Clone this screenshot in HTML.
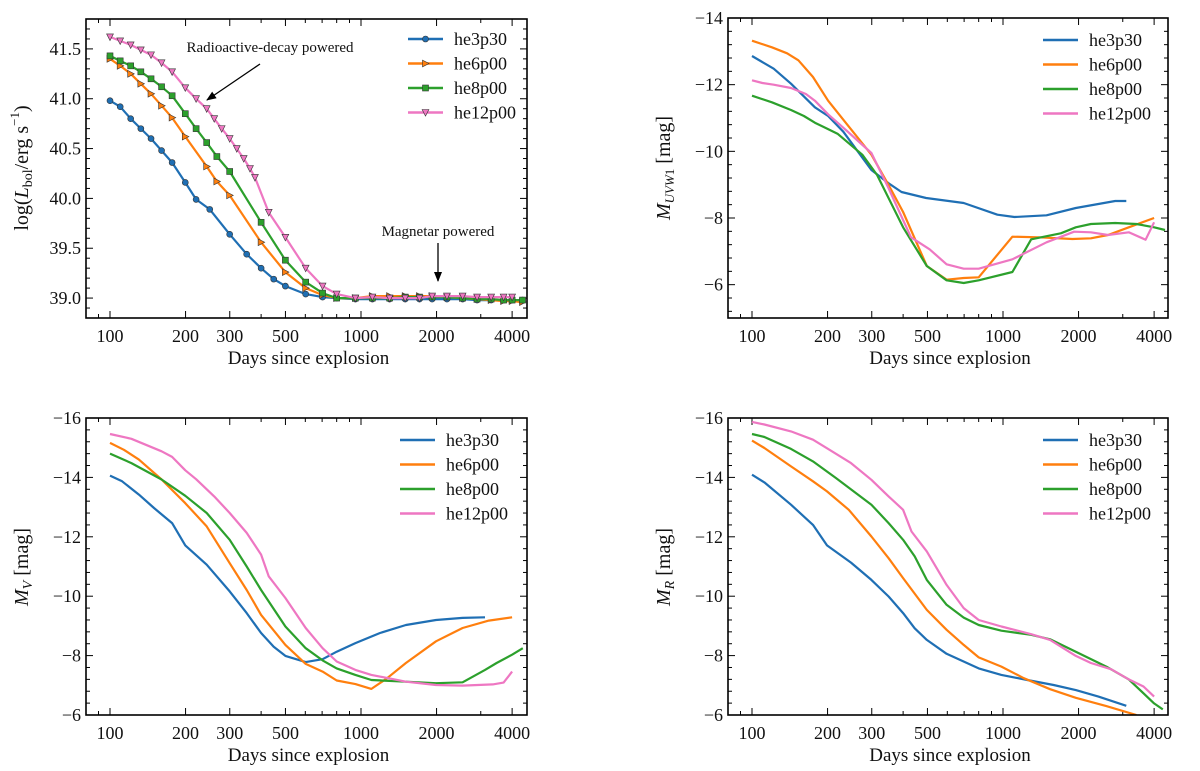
<!DOCTYPE html>
<html><head><meta charset="utf-8"><style>
html,body{margin:0;padding:0;background:#fff;}
svg{display:block;font-family:"Liberation Serif",serif;}
</style></head><body>
<svg id="fig" width="1200" height="771" viewBox="0 0 1200 771" xmlns="http://www.w3.org/2000/svg"></svg>
<script>
const seriesNames = ["he3p30","he6p00","he8p00","he12p00"];
const seriesColors = ["#1f6fb4","#ff7f0e","#2ca02c","#ee77c2"];
const xTickVals = [100,200,300,500,1000,2000,4000];
const xTickLabels = ["100","200","300","500","1000","2000","4000"];

// Panel A: log L_bol
const lbolDays = [
 [100,109.8,120.9,132.7,145.7,160.5,176.8,199.5,220.3,249.7,299.8,350.4,400,449,499.7,602,703,800,950,1110,1300,1500,1710,1920,2200,2540,2900,3300,3700,4000,4400],
 [100,109.8,120.9,132.7,145.7,160.5,176.8,199.5,242.8,266.5,299.8,400,499.7,602,703,800,950,1110,1300,1500,1710,1920,2200,2540,2900,3300,3700,4000,4400],
 [100,109.8,120.9,132.7,145.7,160.5,176.8,199.5,220.3,242.8,266.5,299.8,400,499.7,602,703,800,950,1110,1300,1500,1710,1920,2200,2540,2900,3300,3700,4000,4400],
 [100,109.8,120.9,132.7,145.7,160.5,176.8,199.5,220.3,242.8,260.2,278.6,299.8,320,341,361.2,378,429,499.7,602,703,800,950,1110,1300,1500,1710,1920,2200,2540,2900,3300,3700,4000]
];
const lbolVals = [
 [40.98,40.92,40.80,40.70,40.60,40.48,40.36,40.16,39.99,39.89,39.64,39.44,39.30,39.19,39.12,39.04,39.01,39.00,38.99,38.99,38.99,38.99,38.99,38.99,38.99,38.99,38.98,38.98,38.98,38.98,38.98],
 [41.40,41.33,41.25,41.15,41.05,40.93,40.81,40.62,40.32,40.17,40.03,39.56,39.26,39.10,39.03,39.00,39.00,39.02,39.02,39.02,39.02,39.02,39.01,39.00,38.99,38.98,38.97,38.97,38.96],
 [41.43,41.38,41.33,41.27,41.20,41.12,41.03,40.85,40.70,40.56,40.42,40.27,39.76,39.38,39.16,39.05,39.00,39.00,39.00,39.00,39.01,39.01,39.01,39.01,39.00,38.99,38.99,38.98,38.98,38.98],
 [41.62,41.58,41.54,41.49,41.44,41.36,41.27,41.11,41.00,40.90,40.80,40.70,40.60,40.50,40.40,40.30,40.21,39.86,39.61,39.30,39.12,39.04,39.00,39.01,39.00,39.00,39.00,39.02,39.02,39.02,39.01,39.01,39.01,39.01]
];
// Panel B: UVW1
const uvDays = [
 [100,122,143,178,201,231,299,350,394,494,697,950,1110,1490,1950,2800,3100],
 [100,120,138,153,175,201,239,299,350,400,497,596,697,800,1090,1390,1890,2240,2620,3170,4000],
 [100,120,143,161,178,219,275,315,400,497,596,697,800,1090,1295,1700,1950,2240,2800,3400,4000,4420],
 [100,110,122,143,164,178,201,239,299,350,430,510,596,697,800,1090,1490,1920,2240,2620,3170,3700,4000]
];
const uvVals = [
 [-12.86,-12.48,-12.03,-11.32,-11.06,-10.59,-9.44,-9.04,-8.78,-8.60,-8.45,-8.10,-8.03,-8.08,-8.30,-8.51,-8.51],
 [-13.32,-13.12,-12.94,-12.73,-12.23,-11.52,-10.81,-9.90,-8.99,-8.18,-6.56,-6.15,-6.20,-6.22,-7.44,-7.42,-7.37,-7.39,-7.49,-7.72,-8.00],
 [-11.67,-11.47,-11.24,-11.06,-10.86,-10.53,-9.90,-9.29,-7.72,-6.56,-6.13,-6.05,-6.13,-6.38,-7.36,-7.54,-7.72,-7.82,-7.85,-7.82,-7.72,-7.64],
 [-12.13,-12.05,-12.00,-11.90,-11.72,-11.52,-11.11,-10.61,-9.95,-8.89,-7.42,-7.06,-6.61,-6.48,-6.48,-6.76,-7.27,-7.59,-7.57,-7.49,-7.57,-7.35,-7.87]
];
// Panel C: V band
const vDays = [
 [100,111.7,130.4,149.7,176.8,199.5,242.8,299.8,350.4,400,449,499.7,602,703,800,950,1190,1510,1990,2540,3120],
 [100,113.6,130.4,160.5,199.5,242.8,299.8,350.4,400,499.7,602,703,800,950,1100,1270,1510,1990,2540,3230,4000],
 [100,121.7,160.5,199.5,242.8,299.8,350.4,400,499.7,602,703,800,950,1100,1510,1990,2540,3120,3470,4000,4410],
 [100,121.7,160.5,176.8,199.5,220.3,260.2,299.8,350.4,400,429,499.7,602,703,800,950,1100,1510,1990,2540,3350,3700,4000]
];
const vVals = [
 [-14.06,-13.87,-13.42,-12.97,-12.46,-11.71,-11.06,-10.16,-9.43,-8.76,-8.30,-7.99,-7.78,-7.88,-8.13,-8.42,-8.76,-9.03,-9.20,-9.27,-9.29],
 [-15.16,-14.93,-14.60,-13.93,-13.13,-12.35,-11.11,-10.21,-9.37,-8.36,-7.72,-7.46,-7.16,-7.04,-6.88,-7.24,-7.75,-8.48,-8.93,-9.18,-9.29],
 [-14.80,-14.48,-13.93,-13.38,-12.80,-11.90,-11.00,-10.21,-8.98,-8.25,-7.84,-7.57,-7.35,-7.18,-7.12,-7.07,-7.10,-7.52,-7.75,-8.03,-8.25],
 [-15.46,-15.30,-14.88,-14.69,-14.24,-13.94,-13.36,-12.80,-12.13,-11.40,-10.67,-9.94,-8.93,-8.25,-7.80,-7.52,-7.35,-7.12,-7.01,-6.99,-7.03,-7.09,-7.46]
];
// Panel D: R band
const rDays = [
 [100,112,143,175,199,248,299,350,400,445,497,596,800,985,1250,1590,1950,2400,3100],
 [100,112,143,175,199,243,299,350,400,497,596,697,800,985,1210,1540,1950,2580,3400],
 [100,112,143,175,216,299,350,400,445,497,596,697,800,985,1295,1540,1950,2580,3170,3630,4000,4330],
 [100,112,143,175,201,248,299,350,400,432,497,596,697,800,985,1295,1540,1950,2240,2700,3170,3630,4000]
];
const rVals = [
 [-14.09,-13.83,-13.08,-12.40,-11.71,-11.13,-10.55,-9.99,-9.43,-8.92,-8.53,-8.06,-7.57,-7.35,-7.18,-7.01,-6.84,-6.62,-6.31],
 [-15.24,-14.99,-14.37,-13.87,-13.53,-12.91,-12.01,-11.28,-10.61,-9.54,-8.87,-8.36,-7.94,-7.63,-7.24,-6.87,-6.58,-6.30,-6.00],
 [-15.46,-15.36,-14.96,-14.54,-13.98,-13.08,-12.46,-11.90,-11.34,-10.55,-9.71,-9.28,-9.03,-8.84,-8.70,-8.55,-8.13,-7.63,-7.20,-6.73,-6.39,-6.19],
 [-15.87,-15.78,-15.55,-15.27,-14.96,-14.48,-13.92,-13.36,-12.91,-12.18,-11.51,-10.38,-9.60,-9.20,-8.98,-8.72,-8.53,-7.99,-7.75,-7.54,-7.20,-6.96,-6.62]
];
const lbolTicks = [39.0,39.5,40.0,40.5,41.0,41.5];
const lbolTickLabels = ["39.0","39.5","40.0","40.5","41.0","41.5"];
const uvTicks = [-14,-12,-10,-8,-6];
const uvTickLabels = ["\u221214","\u221212","\u221210","\u22128","\u22126"];
const magTicks = [-16,-14,-12,-10,-8,-6];
const magTickLabels = ["\u221216","\u221214","\u221212","\u221210","\u22128","\u22126"];

const NS="http://www.w3.org/2000/svg";
const svg=document.getElementById('fig');
function mk(tag,attrs,parent){const e=document.createElementNS(NS,tag);for(const k in attrs)e.setAttribute(k,attrs[k]);(parent||svg).appendChild(e);return e;}

function panel(cfg){
  const g=mk('g',{});
  
  
  const L=cfg.L,R=cfg.R,T=cfg.T,B=cfg.B;
  const x100=L+24, dec=251;
  const xs=d=>x100+(Math.log10(d)-2)*dec;
  const ys=v=>T+(v-cfg.ymin)/(cfg.ymax-cfg.ymin)*(B-T);
  const xmin=Math.pow(10,2-24/dec), xmax=Math.pow(10,2+(R-x100)/dec);
  for(let e=1;e<=3;e++){for(let m=1;m<10;m++){const d=m*Math.pow(10,e);if(d<xmin||d>xmax)continue;const X=xs(d);const major=xTickVals.includes(d);const len=major?7:4;
    const t1=mk('line',{x1:X,x2:X,y1:B,y2:B-len,stroke:'#000','stroke-width':1},g);
    const t2=mk('line',{x1:X,x2:X,y1:T,y2:T+len,stroke:'#000','stroke-width':1},g);}}
  xTickVals.forEach((d,i)=>{const t=mk('text',{x:xs(d),y:B+24,'text-anchor':'middle','font-size':18,fill:'#111'},g);t.textContent=xTickLabels[i];});
  const step=cfg.yTicks[1]-cfg.yTicks[0];
  const lo=Math.min(cfg.ymin,cfg.ymax),hi=Math.max(cfg.ymin,cfg.ymax);
  for(let v=Math.ceil(lo/(step/5)-1e-6)*(step/5);v<=hi+1e-6;v+=step/5){const Y=ys(v);const major=cfg.yTicks.some(t=>Math.abs(t-v)<1e-6);const len=major?7:4;
    const a=mk('line',{x1:L,x2:L+len,y1:Y,y2:Y,stroke:'#000','stroke-width':1},g);
    const b=mk('line',{x1:R,x2:R-len,y1:Y,y2:Y,stroke:'#000','stroke-width':1},g);}
  cfg.yTicks.forEach((v,i)=>{const t=mk('text',{x:L-5,y:ys(v)+6,'text-anchor':'end','font-size':18,fill:'#111'},g);t.textContent=cfg.yLabels[i];});
  const cid='clip'+cfg.name;const cp=mk('clipPath',{id:cid},g);mk('rect',{x:L,y:T,width:R-L,height:B-T},cp);
  const sg=mk('g',{'clip-path':'url(#'+cid+')'},g);
  cfg.days.forEach((ds,si)=>{
    const pts=ds.map((d,i)=>xs(d).toFixed(1)+','+ys(cfg.vals[si][i]).toFixed(1)).join(' ');
    const pl=mk('polyline',{points:pts,fill:'none',stroke:seriesColors[si],'stroke-width':2.2,'stroke-linejoin':'round'},sg);
    
    if(cfg.markers){ds.forEach((d,i)=>{const m=marker(sg,si,xs(d),ys(cfg.vals[si][i]));});}
  });
  const fr=mk('rect',{x:L,y:T,width:R-L,height:B-T,fill:'none',stroke:'#000','stroke-width':1.6},g);
  
  const lg=mk('g',{},g);
  seriesNames.forEach((n,i)=>{const y=T+cfg.legY+i*24.5;
    const ln=mk('line',{x1:cfg.legX,x2:cfg.legX+35,y1:y,y2:y,stroke:seriesColors[i],'stroke-width':2.6},lg);
    if(cfg.markers){const m=marker(lg,i,cfg.legX+17.5,y);}
    const t=mk('text',{x:cfg.legX+46,y:y+6,'font-size':18,fill:'#111'},lg);t.textContent=n;});
  const xl=mk('text',{x:(L+R)/2+2,y:B+46,'text-anchor':'middle','font-size':19,fill:'#111'},g);xl.textContent='Days since explosion';
  
  return {xs,ys,g};
}
function marker(p,si,x,y){
  const c=seriesColors[si],s='#333';
  if(si===0)return mk('circle',{cx:x,cy:y,r:3,fill:c,stroke:s,'stroke-width':0.6},p);
  if(si===1)return mk('polygon',{points:`${x-3},${y-3.4} ${x+3.6},${y} ${x-3},${y+3.4}`,fill:c,stroke:s,'stroke-width':0.6},p);
  if(si===2)return mk('rect',{x:x-3,y:y-3,width:6,height:6,fill:c,stroke:s,'stroke-width':0.6},p);
  return mk('polygon',{points:`${x-3.4},${y-3} ${x+3.4},${y-3} ${x},${y+3.6}`,fill:c,stroke:s,'stroke-width':0.6},p);
}
panel({name:'panel-lbol',L:86,R:527,T:19,B:318,ymin:41.8,ymax:38.8,yTicks:lbolTicks,yLabels:lbolTickLabels,days:lbolDays,vals:lbolVals,markers:true,legX:408,legY:20});
panel({name:'panel-uvw1',L:728,R:1168,T:18,B:318,ymin:-14,ymax:-5,yTicks:uvTicks,yLabels:uvTickLabels,days:uvDays,vals:uvVals,markers:false,legX:1043,legY:22});
panel({name:'panel-v',L:86,R:527,T:418,B:715,ymin:-16,ymax:-6,yTicks:magTicks,yLabels:magTickLabels,days:vDays,vals:vVals,markers:false,legX:400,legY:22});
panel({name:'panel-r',L:728,R:1168,T:418,B:715,ymin:-16,ymax:-6,yTicks:magTicks,yLabels:magTickLabels,days:rDays,vals:rVals,markers:false,legX:1043,legY:22});

function ytitle(x,y,html,name){const t=mk('text',{transform:`translate(${x},${y}) rotate(-90)`,'text-anchor':'middle','font-size':20,fill:'#111'});t.innerHTML=html;}
ytitle(28,168,'log(<tspan font-style="italic">L</tspan><tspan font-size="14" dy="4">bol</tspan><tspan dy="-4">/erg s</tspan><tspan font-size="13" dy="-9">\u22121</tspan><tspan dy="9">)</tspan>','y-axis-title-lbol');
ytitle(670,168,'<tspan font-style="italic">M</tspan><tspan font-size="13" dy="4" font-style="italic">UVW</tspan><tspan font-size="13">1</tspan><tspan dy="-4"> [mag]</tspan>','y-axis-title-uvw1');
ytitle(28,567,'<tspan font-style="italic">M</tspan><tspan font-size="14" dy="4" font-style="italic">V</tspan><tspan dy="-4"> [mag]</tspan>','y-axis-title-v');
ytitle(670,567,'<tspan font-style="italic">M</tspan><tspan font-size="14" dy="4" font-style="italic">R</tspan><tspan dy="-4"> [mag]</tspan>','y-axis-title-r');

const defs=mk('defs',{});const mkr=mk('marker',{id:'ah',markerWidth:10,markerHeight:8,refX:9,refY:4,orient:'auto',markerUnits:'userSpaceOnUse'},defs);mk('path',{d:'M0,0 L10,4 L0,8 z',fill:'#000'},mkr);
const a1=mk('text',{x:270,y:52,'text-anchor':'middle','font-size':15,fill:'#111'});a1.textContent='Radioactive-decay powered';
const ar1=mk('line',{x1:260,y1:64,x2:207,y2:100,stroke:'#000','stroke-width':1.3,'marker-end':'url(#ah)'});
const a2=mk('text',{x:438,y:236,'text-anchor':'middle','font-size':15,fill:'#111'});a2.textContent='Magnetar powered';
const ar2=mk('line',{x1:438,y1:243,x2:438,y2:281,stroke:'#000','stroke-width':1.3,'marker-end':'url(#ah)'});
</script>
</body></html>
